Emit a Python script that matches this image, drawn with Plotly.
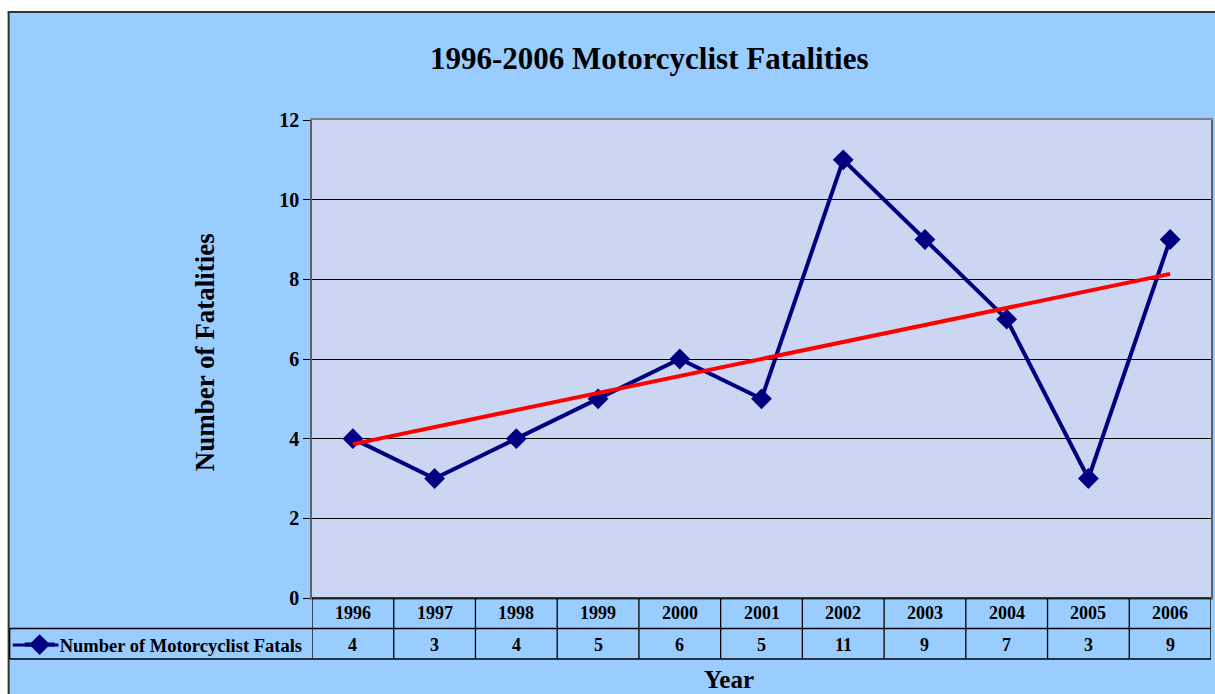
import numpy as np
import plotly.graph_objects as go

years = ["1996", "1997", "1998", "1999", "2000", "2001", "2002", "2003", "2004", "2005", "2006"]
fatalities = [4, 3, 4, 5, 6, 5, 11, 9, 7, 3, 9]
series_name = "Number of Motorcyclist Fatals"
title_text = "1996-2006 Motorcyclist Fatalities"
y_title = "Number of Fatalities"
x_title = "Year"

W, H = 1215, 694
L, R, T, B = 312, 1213, 120, 598
PW, PH = R - L, B - T


def px(p):
    return (p - L) / PW


def py(p):
    return (B - p) / PH


FONT = "Liberation Serif, Times New Roman, serif"
BG = "#99CCFF"
NAVY = "#000080"

# linear trend line (least squares)
xi = np.arange(len(years))
slope, intercept = np.polyfit(xi, fatalities, 1)
trend = slope * xi + intercept

fig = go.Figure()
fig.add_trace(go.Scatter(
    x=years, y=fatalities, mode="lines+markers", name=series_name,
    line=dict(color=NAVY, width=4),
    marker=dict(symbol="diamond", size=16, color=NAVY),
    showlegend=True,
))
fig.add_trace(go.Scatter(
    x=years, y=trend, mode="lines", line=dict(color="#FF0000", width=4),
    showlegend=False, hoverinfo="skip",
))

shapes = []
# white margins and outer frame
shapes.append(dict(type="rect", xref="paper", yref="paper", x0=px(-5), x1=px(W + 5),
                   y0=py(12), y1=py(-5), fillcolor="white", line_width=0, layer="above"))
shapes.append(dict(type="rect", xref="paper", yref="paper", x0=px(-5), x1=px(7),
                   y0=py(H + 5), y1=py(-5), fillcolor="white", line_width=0, layer="above"))
shapes.append(dict(type="line", xref="paper", yref="paper", x0=px(7), x1=px(W + 5),
                   y0=py(12), y1=py(12), line=dict(color="#333333", width=2)))
shapes.append(dict(type="line", xref="paper", yref="paper", x0=px(8), x1=px(8),
                   y0=py(12), y1=py(H + 5), line=dict(color="#333333", width=2)))

# data table lines
row_mid = py(628.5)
row_bot = py(659)
tline = dict(color="black", width=1.3)
shapes.append(dict(type="line", xref="paper", yref="paper", x0=0, x1=1, y0=0, y1=0, line=tline))
shapes.append(dict(type="line", xref="paper", yref="paper", x0=px(9), x1=1, y0=row_mid, y1=row_mid, line=tline))
shapes.append(dict(type="line", xref="paper", yref="paper", x0=px(9), x1=1, y0=row_bot, y1=row_bot, line=tline))
shapes.append(dict(type="line", xref="paper", yref="paper", x0=px(9), x1=px(9), y0=row_mid, y1=row_bot, line=tline))
for i in range(len(years) + 1):
    shapes.append(dict(type="line", xref="x", yref="paper", x0=i - 0.5, x1=i - 0.5,
                       y0=0, y1=row_bot, line=tline))
# legend key line inside the table's legend cell
shapes.append(dict(type="line", xref="paper", yref="paper", x0=px(12), x1=px(58),
                   y0=py(645), y1=py(645), line=dict(color=NAVY, width=3)))

annotations = []
for i, (yr, v) in enumerate(zip(years, fatalities)):
    annotations.append(dict(x=i, y=py(613), xref="x", yref="paper", text=yr, showarrow=False,
                            font=dict(family=FONT, size=18, color="black", weight="bold"),
                            yanchor="middle"))
    annotations.append(dict(x=i, y=py(645), xref="x", yref="paper", text=str(v), showarrow=False,
                            font=dict(family=FONT, size=18, color="black", weight="bold"),
                            yanchor="middle"))
annotations.append(dict(x=px(650), y=py(58), xref="paper", yref="paper", text=title_text,
                        showarrow=False, xanchor="center", yanchor="middle",
                        font=dict(family=FONT, size=31, color="black", weight="bold")))
annotations.append(dict(x=px(730), y=py(679), xref="paper", yref="paper", text=x_title,
                        showarrow=False, xanchor="center", yanchor="middle",
                        font=dict(family=FONT, size=25, color="black", weight="bold")))
annotations.append(dict(x=px(205), y=py(352), xref="paper", yref="paper", text=y_title,
                        showarrow=False, xanchor="center", yanchor="middle", textangle=-90,
                        font=dict(family=FONT, size=27, color="black", weight="bold")))

fig.update_layout(
    width=W, height=H,
    margin=dict(l=L, r=W - R, t=T, b=H - B),
    paper_bgcolor=BG,
    plot_bgcolor="#CAD6F2",
    shapes=shapes,
    annotations=annotations,
    showlegend=True,
    legend=dict(x=px(19), y=py(645), xanchor="left", yanchor="middle",
                bgcolor="rgba(0,0,0,0)", borderwidth=0,
                font=dict(family=FONT, size=18.5, color="black", weight="bold"),
                itemwidth=30),
    xaxis=dict(type="category", range=[-0.5, len(years) - 0.5], showticklabels=False,
               showgrid=False, zeroline=False, ticks="",
               showline=True, mirror=True, linecolor="#808080", linewidth=1.5),
    yaxis=dict(range=[0, 12], dtick=2, showgrid=True, gridcolor="black", gridwidth=1,
               zeroline=False, ticks="outside", ticklen=7, tickcolor="black",
               tickfont=dict(family=FONT, size=20, color="black", weight="bold"),
               showline=True, mirror=True, linecolor="#606060", linewidth=1.5),
)

fig.write_html("out.html", config={"displayModeBar": False},
               post_script="document.body.style.margin='0';document.body.style.overflow='hidden';")
